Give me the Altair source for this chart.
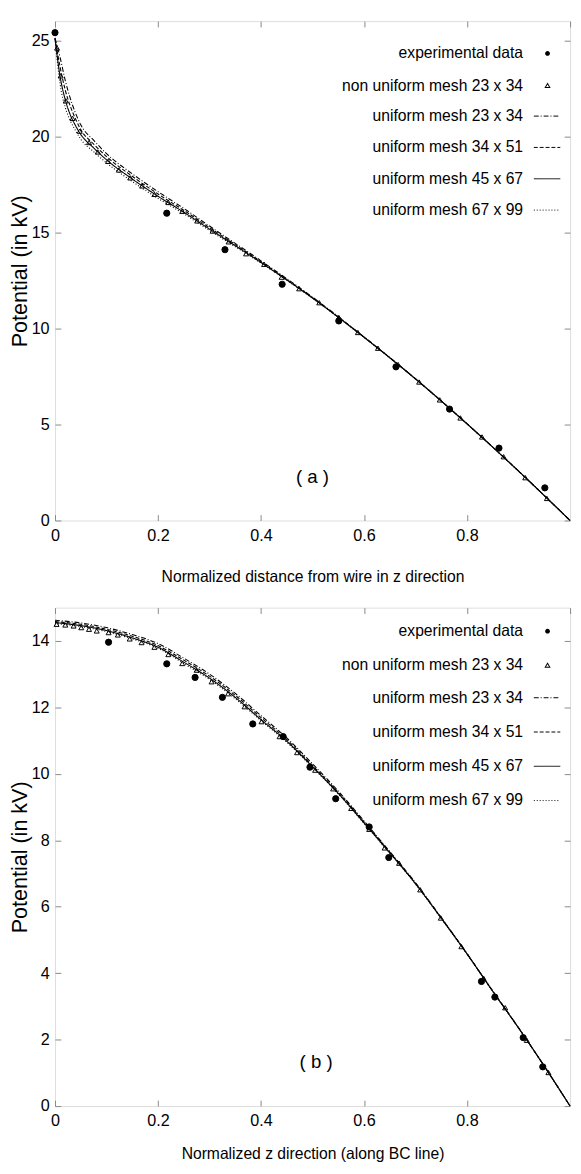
import altair as alt
import pandas as pd

FONT = "Liberation Sans"

SER_EXP = "experimental data"
SER_NU = "non uniform mesh 23 x 34"
SER_LINES = ["uniform mesh 23 x 34", "uniform mesh 34 x 51",
             "uniform mesh 45 x 67", "uniform mesh 67 x 99"]

# ---------------- panel (a) data ----------------
A_EXP_X = [0.0, 0.217, 0.330, 0.441, 0.551, 0.662, 0.766, 0.862, 0.951]
A_EXP_V = [25.4, 16.0, 14.1, 12.3, 10.39, 8.0, 5.8, 3.77, 1.70]

A_NU_X = [0.004, 0.011, 0.021, 0.034, 0.048, 0.066, 0.083, 0.103, 0.124, 0.146,
          0.169, 0.193, 0.220, 0.247, 0.276, 0.306, 0.337, 0.371, 0.406, 0.440,
          0.474, 0.513, 0.551, 0.588, 0.627, 0.666, 0.707, 0.747, 0.787, 0.829,
          0.871, 0.913, 0.955]
A_NU_V = [24.6, 23.15, 21.85, 20.94, 20.27, 19.68, 19.19, 18.70, 18.25, 17.84,
          17.42, 16.98, 16.56, 16.10, 15.60, 15.07, 14.51, 13.89, 13.34, 12.67,
          12.07, 11.34, 10.57, 9.79, 8.97, 8.12, 7.21, 6.28, 5.34, 4.35,
          3.32, 2.23, 1.15]

A_LINE_X = [0.0, 0.01, 0.02, 0.03, 0.04, 0.05, 0.075, 0.1, 0.15, 0.2,
            0.25, 0.3, 0.4, 0.5, 0.6, 0.7, 0.8, 0.9, 1.0]
A_U23 = [25.1, 24.1, 22.9, 21.95, 21.2, 20.6, 19.8, 19.1, 18.05, 17.12,
         16.25, 15.33, 13.52, 11.63, 9.56, 7.38, 5.04, 2.58, 0.0]
A_U34 = [25.1, 23.6, 22.4, 21.55, 20.9, 20.35, 19.6, 18.95, 17.92, 17.0,
         16.15, 15.25, 13.47, 11.6, 9.55, 7.37, 5.03, 2.57, 0.0]
A_U45 = [25.1, 23.1, 21.9, 21.1, 20.55, 20.1, 19.4, 18.78, 17.78, 16.88,
         16.05, 15.17, 13.43, 11.58, 9.54, 7.37, 5.03, 2.57, 0.0]
A_U67 = [25.1, 22.7, 21.5, 20.8, 20.3, 19.85, 19.2, 18.62, 17.65, 16.77,
         15.97, 15.1, 13.4, 11.57, 9.53, 7.36, 5.03, 2.57, 0.0]

# ---------------- panel (b) data ----------------
B_EXP_X = [0.104, 0.217, 0.272, 0.325, 0.384, 0.443, 0.495, 0.545, 0.610,
           0.648, 0.828, 0.854, 0.909, 0.947]
B_EXP_V = [13.96, 13.31, 12.90, 12.30, 11.50, 11.12, 10.20, 9.25, 8.40,
           7.48, 3.75, 3.28, 2.06, 1.18]

B_NU_X = [0.003, 0.020, 0.036, 0.051, 0.066, 0.081, 0.104, 0.122, 0.145, 0.168,
          0.193, 0.220, 0.247, 0.275, 0.304, 0.336, 0.368, 0.401, 0.436, 0.470,
          0.505, 0.540, 0.575, 0.610, 0.640, 0.668, 0.709, 0.749, 0.789, 0.832,
          0.874, 0.916, 0.958]
B_NU_V = [14.50, 14.48, 14.45, 14.40, 14.35, 14.30, 14.25, 14.18, 14.06, 13.95,
          13.81, 13.59, 13.32, 13.12, 12.77, 12.41, 12.02, 11.57, 11.12, 10.64,
          10.11, 9.55, 8.96, 8.33, 7.77, 7.31, 6.51, 5.66, 4.80, 3.85,
          2.96, 1.98, 1.01]

B_LINE_X = [0.0, 0.05, 0.1, 0.15, 0.2, 0.25, 0.3, 0.35, 0.4, 0.45, 0.5,
            0.55, 0.6, 0.65, 0.7, 0.75, 0.8, 0.85, 0.9, 0.95, 1.0]
B_U23 = [14.62, 14.54, 14.40, 14.19, 13.92, 13.48, 13.0, 12.42, 11.75, 11.08, 10.3,
         9.48, 8.58, 7.66, 6.72, 5.67, 4.59, 3.46, 2.36, 1.2, 0.0]
B_U34 = [14.58, 14.5, 14.35, 14.14, 13.86, 13.42, 12.94, 12.36, 11.69, 11.03, 10.25,
         9.44, 8.55, 7.64, 6.7, 5.66, 4.58, 3.46, 2.35, 1.2, 0.0]
B_U45 = [14.55, 14.46, 14.31, 14.09, 13.81, 13.36, 12.88, 12.3, 11.63, 10.98, 10.21,
         9.41, 8.52, 7.62, 6.69, 5.65, 4.58, 3.45, 2.35, 1.2, 0.0]
B_U67 = [14.52, 14.43, 14.28, 14.06, 13.78, 13.32, 12.84, 12.26, 11.6, 10.95, 10.19,
         9.39, 8.51, 7.61, 6.68, 5.64, 4.57, 3.45, 2.35, 1.2, 0.0]

X_TICKS = [0, 0.2, 0.4, 0.6, 0.8]
X_TICKS_TOP = [0, 0.2, 0.4, 0.6, 0.8, 1.0]
A_Y_TICKS = [0, 5, 10, 15, 20, 25]
B_Y_TICKS = [0, 2, 4, 6, 8, 10, 12, 14]

# styles
DASHES = [[5, 2, 1, 2], [4, 2], [1, 0], [1, 2]]
# legend key glyphs, drawn to the right of the right-aligned legend text
LINE_KEY = "M19,0H46"
DOT_KEY = "M30.6,0A2.4,2.4,0,1,0,35.4,0A2.4,2.4,0,1,0,30.6,0Z"
TRI_KEY = "M33,-3.3L36.2,2.3L29.8,2.3ZM33,-1.3L31.5,1.4L34.5,1.4Z"


def panel(exp_x, exp_v, nu_x, nu_v, line_x, line_vals, ymax, yticks, xtitle,
          tag, tag_x, tag_v, leg1_y, leg1_pad, leg2_y, leg2_pad, height, title_pad):
    pts = pd.DataFrame({
        "x": exp_x + nu_x,
        "v": exp_v + nu_v,
        "s": [SER_EXP] * len(exp_x) + [SER_NU] * len(nu_x),
    })
    rows = []
    for name, vals in zip(SER_LINES, line_vals):
        for xv, vv in zip(line_x, vals):
            rows.append({"x": xv, "v": vv, "s": name})
    lines = pd.DataFrame(rows)
    tag_df = pd.DataFrame({"x": [tag_x], "v": [tag_v], "t": [tag]})

    xs = alt.Scale(domain=[0, 1], nice=False, zero=False)
    ys = alt.Scale(domain=[0, ymax], nice=False)

    x_axis = alt.Axis(orient="bottom", values=X_TICKS, format="~g", tickSize=6, offset=-6,
                      domain=False, grid=False, labelFont=FONT, labelFontSize=16.5,
                      labelPadding=7, labelFlush=False, minExtent=0, title=xtitle,
                      titleFont=FONT, titleFontSize=16, titleFontWeight="normal",
                      titlePadding=title_pad)
    y_axis = alt.Axis(orient="left", values=yticks, tickSize=6, offset=-6,
                      domain=False, grid=False, labelFont=FONT, labelFontSize=16.5,
                      labelPadding=6, labelFlush=False, minExtent=0,
                      title="Potential (in kV)", titleFont=FONT, titleFontSize=22,
                      titleFontWeight="normal", titlePadding=0)
    x_top = alt.Axis(orient="top", values=X_TICKS_TOP, labels=False, domain=False,
                     grid=False, tickSize=6, offset=-6, minExtent=0, title=None)
    y_right = alt.Axis(orient="right", values=yticks, labels=False, domain=False,
                       grid=False, tickSize=6, offset=-6, minExtent=0, title=None)

    leg_lines = alt.Legend(title=None, orient="none", legendX=462, legendY=leg2_y,
                           symbolType=LINE_KEY, symbolSize=4, symbolStrokeWidth=1,
                           symbolStrokeColor="black", symbolOpacity=1,
                           labelAlign="right", labelOffset=0, labelFont=FONT,
                           labelFontSize=16, labelLimit=400, rowPadding=leg2_pad,
                           padding=0)
    leg_pts = alt.Legend(title=None, orient="none", legendX=462, legendY=leg1_y,
                         symbolSize=4, symbolStrokeWidth=0, symbolFillColor="black",
                         symbolOpacity=1, labelAlign="right", labelOffset=0,
                         labelFont=FONT, labelFontSize=16, labelLimit=400,
                         rowPadding=leg1_pad, padding=0)

    line_layer = alt.Chart(lines).mark_line(
        color="black", strokeWidth=1.1, interpolate="monotone"
    ).encode(
        x=alt.X("x:Q", scale=xs, axis=x_axis),
        y=alt.Y("v:Q", scale=ys, axis=y_axis),
        strokeDash=alt.StrokeDash("s:N", scale=alt.Scale(domain=SER_LINES, range=DASHES),
                                  legend=leg_lines),
    )
    pt_layer = alt.Chart(pts).mark_point(
        filled=True, stroke="black", strokeWidth=1, opacity=1
    ).encode(
        x=alt.X("x:Q", scale=xs, axis=None),
        y=alt.Y("v:Q", scale=ys, axis=None),
        shape=alt.Shape("s:N", scale=alt.Scale(domain=[SER_EXP, SER_NU],
                                               range=["circle", "triangle-up"]),
                        legend=None),
        fill=alt.Fill("s:N", scale=alt.Scale(domain=[SER_EXP, SER_NU],
                                             range=["black", "transparent"]),
                      legend=None),
        size=alt.Size("s:N", scale=alt.Scale(domain=[SER_EXP, SER_NU], range=[40, 26]),
                      legend=None),
    )
    # key for the point series (no marks drawn, only its legend)
    key_layer = alt.Chart(pts).transform_filter(alt.datum.x < 0).mark_point(
        filled=True, color="black", strokeWidth=0, opacity=1
    ).encode(
        x=alt.X("x:Q", scale=xs, axis=None),
        y=alt.Y("v:Q", scale=ys, axis=None),
        shape=alt.Shape("s:N", scale=alt.Scale(domain=[SER_EXP, SER_NU],
                                               range=[DOT_KEY, TRI_KEY]),
                        legend=leg_pts),
    )
    tick_layer = alt.Chart(pts).mark_point(opacity=0).encode(
        x=alt.X("x:Q", scale=xs, axis=x_top),
        y=alt.Y("v:Q", scale=ys, axis=y_right),
    )
    tag_layer = alt.Chart(tag_df).mark_text(font=FONT, fontSize=19, color="black").encode(
        x=alt.X("x:Q", scale=xs, axis=None),
        y=alt.Y("v:Q", scale=ys, axis=None),
        text="t:N",
    )
    return alt.layer(line_layer, pt_layer, key_layer, tick_layer, tag_layer).resolve_scale(
        shape="independent", fill="independent"
    ).resolve_axis(
        x="independent", y="independent"
    ).properties(width=526, height=height)


panel_a = panel(A_EXP_X, A_EXP_V, A_NU_X, A_NU_V, A_LINE_X,
                [A_U23, A_U34, A_U45, A_U67], 26, A_Y_TICKS,
                "Normalized distance from wire in z direction",
                "( a )", 0.5, 2.26, 25, 17, 89, 16, 510, 25.5)
panel_b = panel(B_EXP_X, B_EXP_V, B_NU_X, B_NU_V, B_LINE_X,
                [B_U23, B_U34, B_U45, B_U67], 15, B_Y_TICKS,
                "Normalized z direction (along BC line)",
                "( b )", 0.507, 1.31, 16, 19, 84, 19, 509, 17.5)

chart = alt.vconcat(panel_a, panel_b, spacing=22).resolve_scale(
    shape="independent", fill="independent", strokeDash="independent", size="independent"
).properties(
    padding={"left": 0, "top": 0, "right": 0, "bottom": 0}
).configure_view(
    stroke="black", strokeWidth=1.5
).configure_axis(
    labelColor="black", titleColor="black", tickColor="black", tickWidth=1
).configure_legend(
    labelColor="black"
).configure(background="white")

chart.save("out.html", embed_options={"renderer": "svg", "actions": False})
